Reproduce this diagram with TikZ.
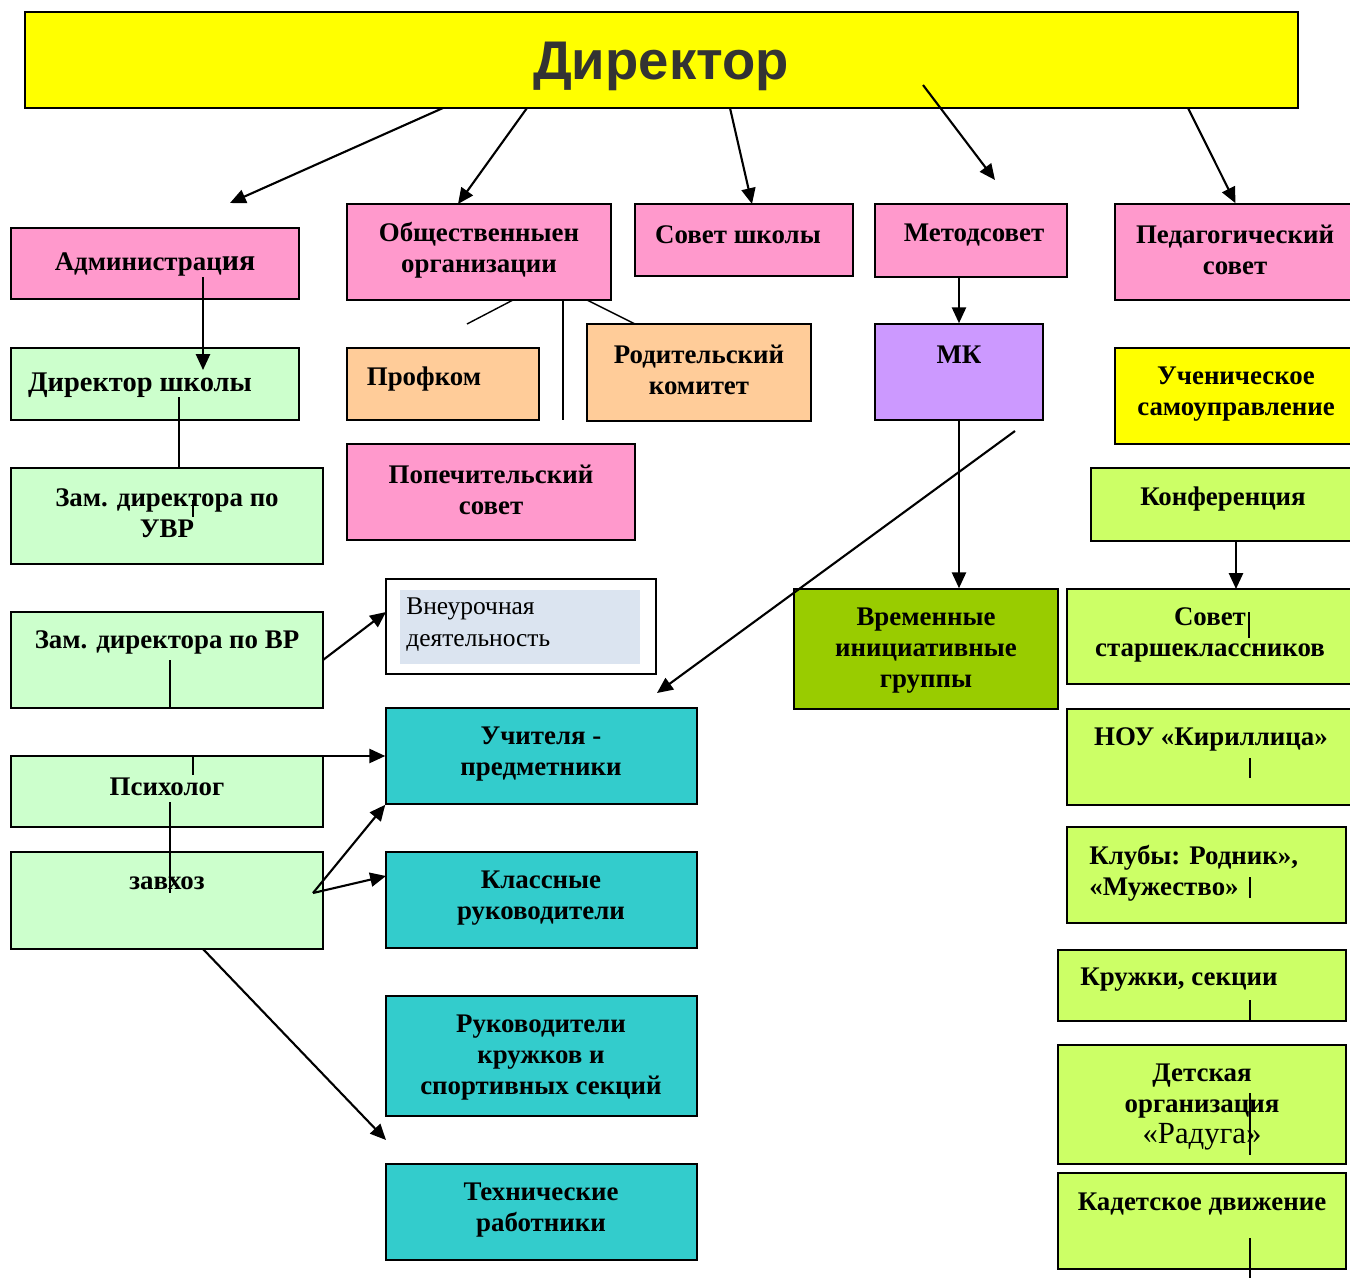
\documentclass[tikz,border=0pt]{standalone}
\usepackage{fontspec}
\setmainfont{Liberation Serif}
\newfontfamily\titlefont{Liberation Sans}
\usetikzlibrary{arrows.meta}
\definecolor{cYellow}{HTML}{FFFF00}
\definecolor{cPink}{HTML}{FF99CC}
\definecolor{cMint}{HTML}{CCFFCC}
\definecolor{cPeach}{HTML}{FFCC99}
\definecolor{cLilac}{HTML}{CC99FF}
\definecolor{cLime}{HTML}{CCFF66}
\definecolor{cOlive}{HTML}{99CC00}
\definecolor{cTeal}{HTML}{33CCCC}
\definecolor{cPale}{HTML}{DBE4F0}
\definecolor{cTitle}{HTML}{333333}
\begin{document}
\begin{tikzpicture}[x=0.02cm,y=-0.02cm]
		\tikzstyle{box}=[rectangle,draw=black,line width=0.9pt,inner sep=0pt]
		\tikzstyle{txt}=[align=center,inner sep=0pt,yshift=-1.6pt,font=\bfseries\fontsize{15.3}{17.6}\selectfont]
		\tikzstyle{arr}=[-{Triangle[length=9pt,width=8pt]},line width=1.2pt]
		\tikzstyle{ln}=[line width=0.8pt]
		\useasboundingbox (0,0) rectangle (1350,1278);

		% top
		\node[box,fill=cYellow,minimum width=25.46cm,minimum height=1.92cm] (dir) at (661.5,60) {};
		\node[inner sep=0pt,text=cTitle,font=\titlefont\bfseries\fontsize{31}{31}\selectfont] (dir-t) at (661,66) {Директор};

		% first row
		\node[box,fill=cPink,minimum width=5.76cm,minimum height=1.42cm] (adm) at (155,263.5) {};
		\node[txt] (adm-t) at (155,262) {Администрац{\fontsize{17}{17}\selectfont ия}};
		\node[box,fill=cPink,minimum width=5.28cm,minimum height=1.92cm] (obsh) at (479,252) {};
		\node[txt] (obsh-t) at (479,247.5) {Общественныен\\организации};
		\node[box,fill=cPink,minimum width=4.36cm,minimum height=1.44cm] (sov) at (744,240) {};
		\node[txt] (sov-t) at (738,232) {Совет школы};
		\node[box,fill=cPink,minimum width=3.84cm,minimum height=1.46cm] (met) at (971,240.5) {};
		\node[txt] (met-t) at (974,232) {Методсовет};
		\node[box,fill=cPink,minimum width=4.82cm,minimum height=1.92cm] (ped) at (1235.5,252) {};
		\node[txt] (ped-t) at (1235,247.5) {Педагогический\\совет};

		% second row
		\node[box,fill=cMint,minimum width=5.76cm,minimum height=1.44cm] (dsh) at (155,384) {};
		\node[txt,font=\bfseries\fontsize{16.2}{19}\selectfont] (dsh-t) at (140,382) {Директор школы};
		\node[box,fill=cPeach,minimum width=3.84cm,minimum height=1.44cm] (prof) at (443,384) {};
		\node[txt] (prof-t) at (424,376) {Профком};
		\node[box,fill=cPeach,minimum width=4.48cm,minimum height=1.94cm] (rod) at (699,372.5) {};
		\node[txt] (rod-t) at (699,367.5) {Родительский\\комитет};
		\node[box,fill=cLilac,minimum width=3.36cm,minimum height=1.92cm] (mk) at (959,372) {};
		\node[txt] (mk-t) at (959,352) {МК};
		\node[box,fill=cYellow,minimum width=4.82cm,minimum height=1.92cm] (usam) at (1235.5,396) {};
		\node[txt] (usam-t) at (1236,391.5) {Ученическое\\самоуправление};

		% third row
		\node[box,fill=cMint,minimum width=6.24cm,minimum height=1.92cm] (zuvr) at (167,516) {};
		\node[txt] (zuvr-t) at (167,510.5) {Зам. директора по\\УВР};
		\node[box,fill=cPink,minimum width=5.76cm,minimum height=1.92cm] (pop) at (491,492) {};
		\node[txt] (pop-t) at (491,487.5) {Попечительский\\совет};
		\node[box,fill=cLime,minimum width=5.3cm,minimum height=1.46cm] (konf) at (1223.5,504.5) {};
		\node[txt] (konf-t) at (1223,496) {Конференция};

		% fourth row
		\node[box,fill=white,minimum width=5.4cm,minimum height=1.9cm] (vneur) at (521,626.5) {};
		\node[fill=cPale,inner sep=0pt,minimum width=4.8cm,minimum height=1.48cm] (vneur-f) at (520,627) {};
		\node[align=left,anchor=west,inner sep=0pt,font=\fontsize{14.5}{18}\selectfont] (vneur-t) at (406,624.5) {Внеурочная\\деятельность};
		\node[box,fill=cMint,minimum width=6.24cm,minimum height=1.92cm] (zvr) at (167,660) {};
		\node[txt] (zvr-t) at (167,640) {Зам. директора по ВР};
		\node[box,fill=cOlive,minimum width=5.28cm,minimum height=2.4cm] (vrem) at (926,649) {};
		\node[txt] (vrem-t) at (926,648) {Временные\\инициативные\\группы};
		\node[box,fill=cLime,minimum width=5.78cm,minimum height=1.9cm] (sovst) at (1211.5,636.5) {};
		\node[txt] (sovst-t) at (1210,632.5) {Совет\\старшеклассников};

		% fifth row
		\node[box,fill=cTeal,minimum width=6.22cm,minimum height=1.92cm] (uch) at (541.5,756) {};
		\node[txt] (uch-t) at (541,751.5) {Учителя -\\предметники};
		\node[box,fill=cMint,minimum width=6.24cm,minimum height=1.42cm] (psy) at (167,791.5) {};
		\node[txt] (psy-t) at (167,784) {Психолог};
		\node[box,fill=cLime,minimum width=5.78cm,minimum height=1.92cm] (nou) at (1211.5,757) {};
		\node[txt] (nou-t) at (1211,737) {НОУ «Кириллица»};

		% sixth row
		\node[box,fill=cMint,minimum width=6.24cm,minimum height=1.94cm] (zav) at (167,900.5) {};
		\node[txt] (zav-t) at (167,880) {завхоз};
		\node[box,fill=cTeal,minimum width=6.22cm,minimum height=1.92cm] (kl) at (541.5,900) {};
		\node[txt] (kl-t) at (541,895.5) {Классные\\руководители};
		\node[box,fill=cLime,minimum width=5.58cm,minimum height=1.92cm] (klub) at (1206.5,875) {};
		\node[txt,align=left,anchor=west] (klub-t) at (1089,870.5) {Клубы: Родник»,\\«Мужество»};

		% lower rows
		\node[box,fill=cLime,minimum width=5.76cm,minimum height=1.42cm] (kruzh) at (1202,985.5) {};
		\node[txt,anchor=west] (kruzh-t) at (1080,977) {Кружки, секции};
		\node[box,fill=cTeal,minimum width=6.22cm,minimum height=2.4cm] (ruk) at (541.5,1056) {};
		\node[txt] (ruk-t) at (541,1055) {Руководители\\кружков и\\спортивных секций};
		\node[box,fill=cLime,minimum width=5.76cm,minimum height=2.38cm] (det) at (1202,1104.5) {};
		\node[txt] (det-t) at (1202,1104) {Детская\\организация\\{\mdseries\fontsize{17.5}{17.6}\selectfont «Радуга»}};
		\node[box,fill=cTeal,minimum width=6.22cm,minimum height=1.92cm] (tech) at (541.5,1212) {};
		\node[txt] (tech-t) at (541,1207.5) {Технические\\работники};
		\node[box,fill=cLime,minimum width=5.76cm,minimum height=1.92cm] (kad) at (1202,1221) {};
		\node[txt] (kad-t) at (1202,1201) {Кадетское движение};

		% free ends
		\coordinate (d1) at (443,108);
		\coordinate (d2) at (527,108);
		\coordinate (d3) at (730,108);
		\coordinate (d4) at (923,85);
		\coordinate (d5) at (1188,108);
		\coordinate (a1) at (230,203);
		\coordinate (a2) at (458,204);
		\coordinate (a3) at (752,204);
		\coordinate (a4) at (995,180);
		\coordinate (adm-s) at (203,277);
		\coordinate (dsh-n) at (203,370);
		\coordinate (dsh-s) at (179,397);
		\coordinate (zuvr-n) at (179,468);
		\coordinate (zuvr-a) at (193,500);
		\coordinate (zuvr-b) at (193,517);
		\coordinate (zvr-a) at (170,660);
		\coordinate (zvr-b) at (170,708);
		\coordinate (zvr-e) at (323,660);
		\coordinate (vneur-w) at (386,612);
		\coordinate (o1) at (513,300);
		\coordinate (o1e) at (467,324);
		\coordinate (o2) at (563,300);
		\coordinate (o2e) at (563,420);
		\coordinate (o3) at (587,300);
		\coordinate (o3e) at (635,324);
		\coordinate (mk-x) at (1015,431);
		\coordinate (uch-x) at (657,693);
		\coordinate (konf-s) at (1236,541);
		\coordinate (sovst-n) at (1236,589);
		\coordinate (psy-e) at (313,756);
		\coordinate (psy-a) at (193,756);
		\coordinate (psy-b) at (193,775);
		\coordinate (psy-c) at (170,802);
		\coordinate (zav-c) at (170,893);
		\coordinate (zav-e) at (313,893);
		\coordinate (kl-w) at (386,876);
		\coordinate (zav-s) at (203,949);
		\coordinate (ruk-x) at (386,1140);
		\coordinate (r1a) at (1249,612);
		\coordinate (r1b) at (1249,638);
		\coordinate (r2a) at (1250,758);
		\coordinate (r2b) at (1250,778);
		\coordinate (r3a) at (1250,877);
		\coordinate (r3b) at (1250,898);
		\coordinate (r4a) at (1250,1000);
		\coordinate (r4b) at (1250,1021);
		\coordinate (r5a) at (1250,1093);
		\coordinate (r5b) at (1250,1155);
		\coordinate (r6a) at (1250,1238);
		\coordinate (r6b) at (1250,1278);

		\path[arr]
		(d1) edge (a1)
		(d2) edge (a2)
		(d3) edge (a3)
		(d4) edge (a4)
		(d5) edge (ped.north)
		(mk.north |- met.south) edge (mk.north)
		(adm-s) edge (dsh-n)
		(zvr-e) edge (vneur-w)
		(mk-x) edge (uch-x)
		(mk.south) edge (mk.south |- vrem.north)
		(konf-s) edge (sovst-n)
		(psy-e) edge (uch.west)
		(zav-e) edge (uch.south west)
		(zav-e) edge (kl-w)
		(zav-s) edge (ruk-x)
		;

		\path[ln]
		(dsh-s) edge (zuvr-n)
		(zuvr-a) edge (zuvr-b)
		(zvr-a) edge (zvr-b)
		(o1) edge (o1e)
		(o2) edge (o2e)
		(o3) edge (o3e)
		(psy-a) edge (psy-b)
		(psy-c) edge (zav-c)
		(r1a) edge (r1b)
		(r2a) edge (r2b)
		(r3a) edge (r3b)
		(r4a) edge (r4b)
		(r5a) edge (r5b)
		(r6a) edge (r6b)
		;
\end{tikzpicture}
\end{document}
